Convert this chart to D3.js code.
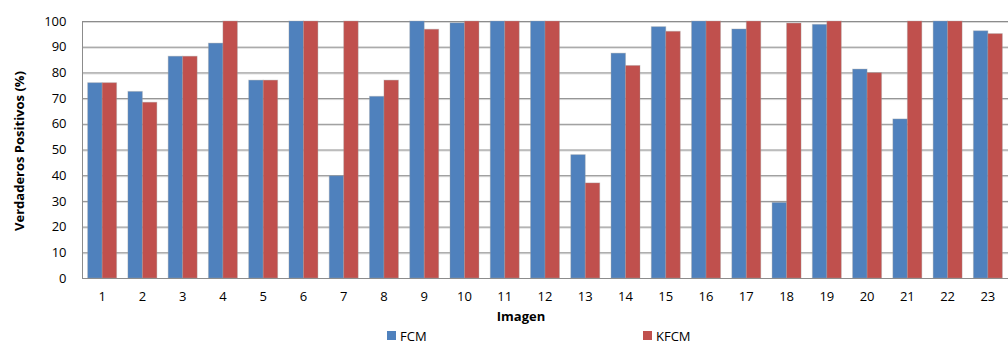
<!DOCTYPE html>
<html>
<head>
<meta charset="utf-8">
<script src="https://cdn.jsdelivr.net/npm/d3@7"></script>
<style>
  body { margin: 0; background: #fff; }
  text { font-family: "Open Sans", sans-serif; fill: #000; }
</style>
</head>
<body>
<div id="chart"></div>
<script>
// Data
var imagenes = ["1","2","3","4","5","6","7","8","9","10","11","12","13","14","15","16","17","18","19","20","21","22","23"];
var series = ["FCM", "KFCM"];
var fcm  = [76, 72.6, 86.3, 91.4, 77, 100, 39.8, 70.7, 100, 99.3, 100, 100, 48, 87.5, 97.8, 100, 96.9, 29.4, 98.7, 81.3, 61.9, 100, 96.2];
var kfcm = [76, 68.4, 86.3, 100, 77, 100, 100, 77, 96.8, 100, 100, 100, 37, 82.7, 96, 100, 100, 99.2, 100, 79.9, 100, 100, 95.1];
var yTicks = [0, 10, 20, 30, 40, 50, 60, 70, 80, 90, 100];
var colors = ["#4f81bd", "#c0504d"];

var width = 1008, height = 343;
var margin = { top: 21, right: 0, bottom: 65, left: 82 };

var svg = d3.select('#chart').append('svg')
    .attr('width', width)
    .attr('height', height);

var x0 = d3.scaleBand()
    .domain(imagenes)
    .range([margin.left, width - margin.right]);

var x1 = d3.scaleBand()
    .domain(series)
    .range([0, x0.bandwidth()])
    .paddingOuter(0.39);

var y = d3.scaleLinear()
    .domain([0, 100])
    .range([height - margin.bottom, margin.top]);

// gridlines
var grid = svg.append('g');
grid.selectAll('line.shadow')
    .data(yTicks.filter(d => d > 0))
    .enter().append('line')
    .attr('x1', margin.left).attr('x2', width)
    .attr('y1', d => y(d) + 1.5).attr('y2', d => y(d) + 1.5)
    .attr('stroke', '#d9d9d9');
grid.selectAll('line.main')
    .data(yTicks.filter(d => d > 0))
    .enter().append('line')
    .attr('x1', margin.left).attr('x2', width)
    .attr('y1', d => y(d) + 0.5).attr('y2', d => y(d) + 0.5)
    .attr('stroke', '#8c8c8c');

// bars
var rows = imagenes.map((c, i) => ({ cat: c, vals: [fcm[i], kfcm[i]] }));
var groups = svg.selectAll('g.grp')
    .data(rows)
    .enter().append('g')
    .attr('class', 'grp')
    .attr('transform', d => 'translate(' + x0(d.cat) + ',0)');

groups.selectAll('rect')
    .data(d => d.vals.map((v, j) => ({ s: series[j], v: v, j: j })))
    .enter().append('rect')
    .attr('x', d => x1(d.s))
    .attr('y', d => y(d.v))
    .attr('width', x1.bandwidth())
    .attr('height', d => y(0) - y(d.v))
    .attr('fill', d => colors[d.j])
    .attr('stroke', 'rgba(160,160,160,0.35)')
    .attr('stroke-width', 1);

// axes lines
svg.append('line')
    .attr('x1', margin.left + 0.5).attr('x2', margin.left + 0.5)
    .attr('y1', margin.top).attr('y2', y(0))
    .attr('stroke', '#8c8c8c');
svg.append('line')
    .attr('x1', margin.left).attr('x2', width)
    .attr('y1', y(0) + 0.5).attr('y2', y(0) + 0.5)
    .attr('stroke', '#8c8c8c');

// y axis labels
var yAxis = d3.axisLeft(y).tickValues(yTicks).tickSize(0).tickPadding(16);
var gy = svg.append('g')
    .attr('transform', 'translate(' + (margin.left + 0.5) + ',0)')
    .call(yAxis);
gy.select('.domain').remove();
gy.selectAll('text').style('font-size', '13px').attr('fill', '#000');

// x axis labels
var xAxis = d3.axisBottom(x0).tickSize(0).tickPadding(14);
var gx = svg.append('g')
    .attr('transform', 'translate(0,' + y(0) + ')')
    .call(xAxis);
gx.select('.domain').remove();
gx.selectAll('text').style('font-size', '13px').attr('fill', '#000');

// axis titles
svg.append('text')
    .attr('transform', 'translate(24,151) rotate(-90)')
    .attr('text-anchor', 'middle')
    .style('font-size', '13px')
    .style('font-weight', 'bold')
    .text('Verdaderos Positivos (%)');

svg.append('text')
    .attr('x', 521).attr('y', 321)
    .attr('text-anchor', 'middle')
    .style('font-size', '13px')
    .style('font-weight', 'bold')
    .text('Imagen');

// legend
var legendX = [387, 643];
series.forEach((s, i) => {
    svg.append('rect')
        .attr('x', legendX[i]).attr('y', 331)
        .attr('width', 9).attr('height', 9)
        .attr('fill', colors[i]);
    svg.append('text')
        .attr('x', legendX[i] + 13).attr('y', 340.5)
        .style('font-size', '13px')
        .text(s);
});
</script>
</body>
</html>
